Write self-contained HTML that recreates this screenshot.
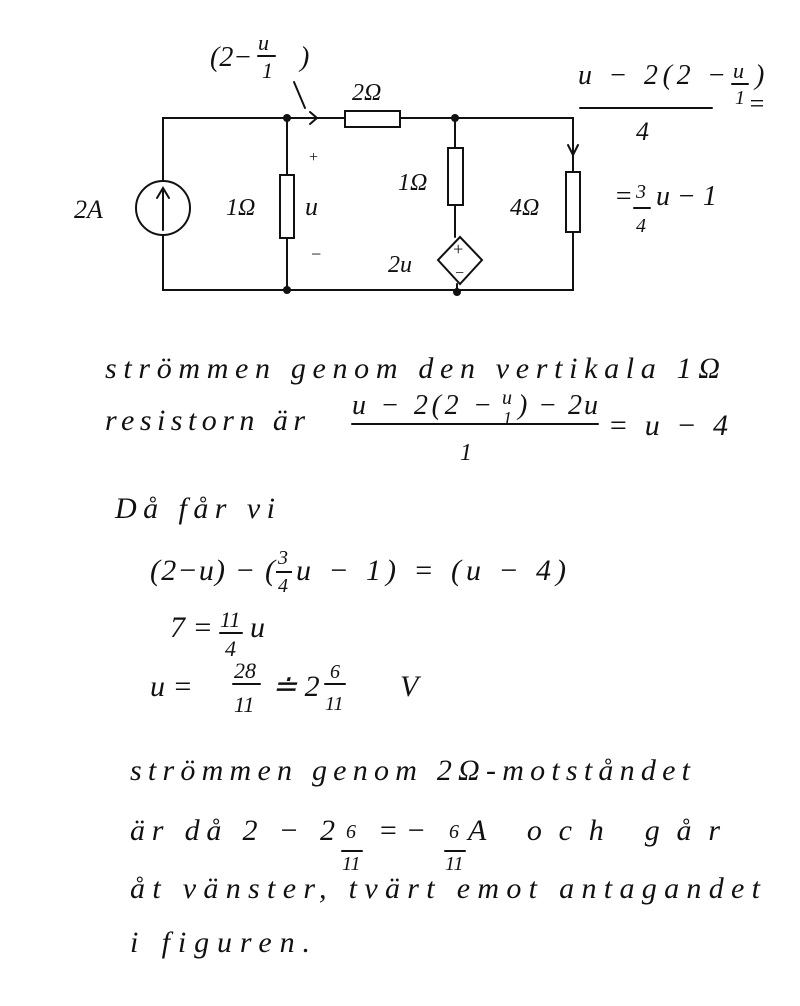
<!DOCTYPE html>
<html><head><meta charset="utf-8"><style>
html,body{margin:0;padding:0;background:#fff;}
svg{display:block}
text{font-family:"Liberation Serif",serif;font-style:italic;fill:#111;}
</style></head><body>
<svg width="800" height="1006" viewBox="0 0 800 1006" xmlns="http://www.w3.org/2000/svg">
<g stroke="#111" stroke-width="2" fill="none" stroke-linecap="round">
<path d="M163 181 V118 H345 M400 118 H573 V172 M573 232 V290 H163 V235"/>
<circle cx="163" cy="208" r="27"/>
<path d="M163 230 V190 M157 198 L163 188 L169 198"/>
<path d="M287 118 V175 M287 238 V290"/>
<rect x="280" y="175" width="14" height="63"/>
<path d="M310 112 L317 118 L310 124"/>
<path d="M294 82 L305 108"/>
<rect x="345" y="111" width="55" height="16"/>
<path d="M455 118 V148 M455 205 V237"/>
<rect x="448" y="148" width="15" height="57"/>
<path d="M460 237 L482 260 L460 284 L438 260 Z"/>
<path d="M457 284 V290"/>
<rect x="566" y="172" width="14" height="60"/>
<path d="M568 145 L573 155 L578 145"/>
<path d="M580 108 H712 M352 424 H598 M220 633 H242 M233 684 H260 M325 684 H345 M342 851 H362 M445 851 H465"/>
<path d="M258 56 H275 M634 208 H650 M732 84 H748"/>
</g>
<g fill="#111"><circle cx="287" cy="118" r="4"/><circle cx="287" cy="290" r="4"/><circle cx="455" cy="118" r="4"/><circle cx="457" cy="292" r="4"/></g>
<text x="210" y="66" font-size="28">(2−</text>
<text x="258" y="50" font-size="22">u</text>
<text x="262" y="78" font-size="22">1</text>
<text x="300" y="66" font-size="28">)</text>
<text x="352" y="100" font-size="24">2Ω</text>
<text x="74" y="218" font-size="26">2A</text>
<text x="226" y="215" font-size="24">1Ω</text>
<text x="305" y="215" font-size="26">u</text>
<text x="308" y="162" font-size="16">+</text>
<text x="310" y="260" font-size="18">−</text>
<text x="398" y="190" font-size="24">1Ω</text>
<text x="510" y="215" font-size="24">4Ω</text>
<text x="388" y="272" font-size="24">2u</text>
<text x="452" y="255" font-size="18">+</text>
<text x="454" y="278" font-size="16">−</text>
<text x="578" y="84" font-size="28" textLength="148" lengthAdjust="spacing">u − 2(2 −</text>
<text x="733" y="78" font-size="22">u</text>
<text x="735" y="104" font-size="20">1</text>
<text x="755" y="84" font-size="28">)</text>
<text x="748" y="112" font-size="26">=</text>
<text x="636" y="140" font-size="26">4</text>
<text x="614" y="205" font-size="28">=</text>
<text x="636" y="198" font-size="20">3</text>
<text x="636" y="232" font-size="20">4</text>
<text x="656" y="205" font-size="28">u − 1</text>
<text x="105" y="378" font-size="30" textLength="615" lengthAdjust="spacing">strömmen genom den vertikala 1Ω</text>
<text x="105" y="430" font-size="30" textLength="200" lengthAdjust="spacing">resistorn är</text>
<text x="352" y="414" font-size="28" textLength="140" lengthAdjust="spacing">u − 2(2 −</text>
<text x="502" y="404" font-size="20">u</text>
<text x="503" y="424" font-size="18">1</text>
<text x="518" y="414" font-size="28" textLength="80" lengthAdjust="spacing">) − 2u</text>
<text x="608" y="435" font-size="30" textLength="120" lengthAdjust="spacing">= u − 4</text>
<text x="460" y="460" font-size="24">1</text>
<text x="115" y="518" font-size="30" textLength="160" lengthAdjust="spacing">Då får vi</text>
<text x="150" y="580" font-size="30" textLength="125" lengthAdjust="spacing">(2−u) − (</text>
<text x="278" y="564" font-size="20">3</text>
<text x="278" y="592" font-size="20">4</text>
<path d="M276 572 H292" stroke="#111" stroke-width="2"/>
<text x="296" y="580" font-size="30" textLength="270" lengthAdjust="spacing">u − 1) = (u − 4)</text>
<text x="170" y="637" font-size="30">7 =</text>
<text x="220" y="627" font-size="22">11</text>
<text x="225" y="656" font-size="22">4</text>
<text x="250" y="637" font-size="30">u</text>
<text x="150" y="696" font-size="30">u =</text>
<text x="234" y="678" font-size="22">28</text>
<text x="234" y="712" font-size="22">11</text>
<text x="272" y="696" font-size="30">≐ 2</text>
<text x="330" y="678" font-size="20">6</text>
<text x="325" y="710" font-size="20">11</text>
<text x="400" y="696" font-size="30">V</text>
<text x="130" y="780" font-size="30" textLength="560" lengthAdjust="spacing">strömmen genom 2Ω-motståndet</text>
<text x="130" y="840" font-size="30" textLength="205" lengthAdjust="spacing">är då 2 − 2</text>
<text x="346" y="838" font-size="20">6</text>
<text x="342" y="870" font-size="20">11</text>
<text x="378" y="840" font-size="30">= −</text>
<text x="449" y="838" font-size="20">6</text>
<text x="445" y="870" font-size="20">11</text>
<text x="468" y="840" font-size="30" textLength="252" lengthAdjust="spacing">A och går</text>
<text x="130" y="898" font-size="30" textLength="630" lengthAdjust="spacing">åt vänster, tvärt emot antagandet</text>
<text x="130" y="952" font-size="30" textLength="180" lengthAdjust="spacing">i figuren.</text>
</svg>
</body></html>
